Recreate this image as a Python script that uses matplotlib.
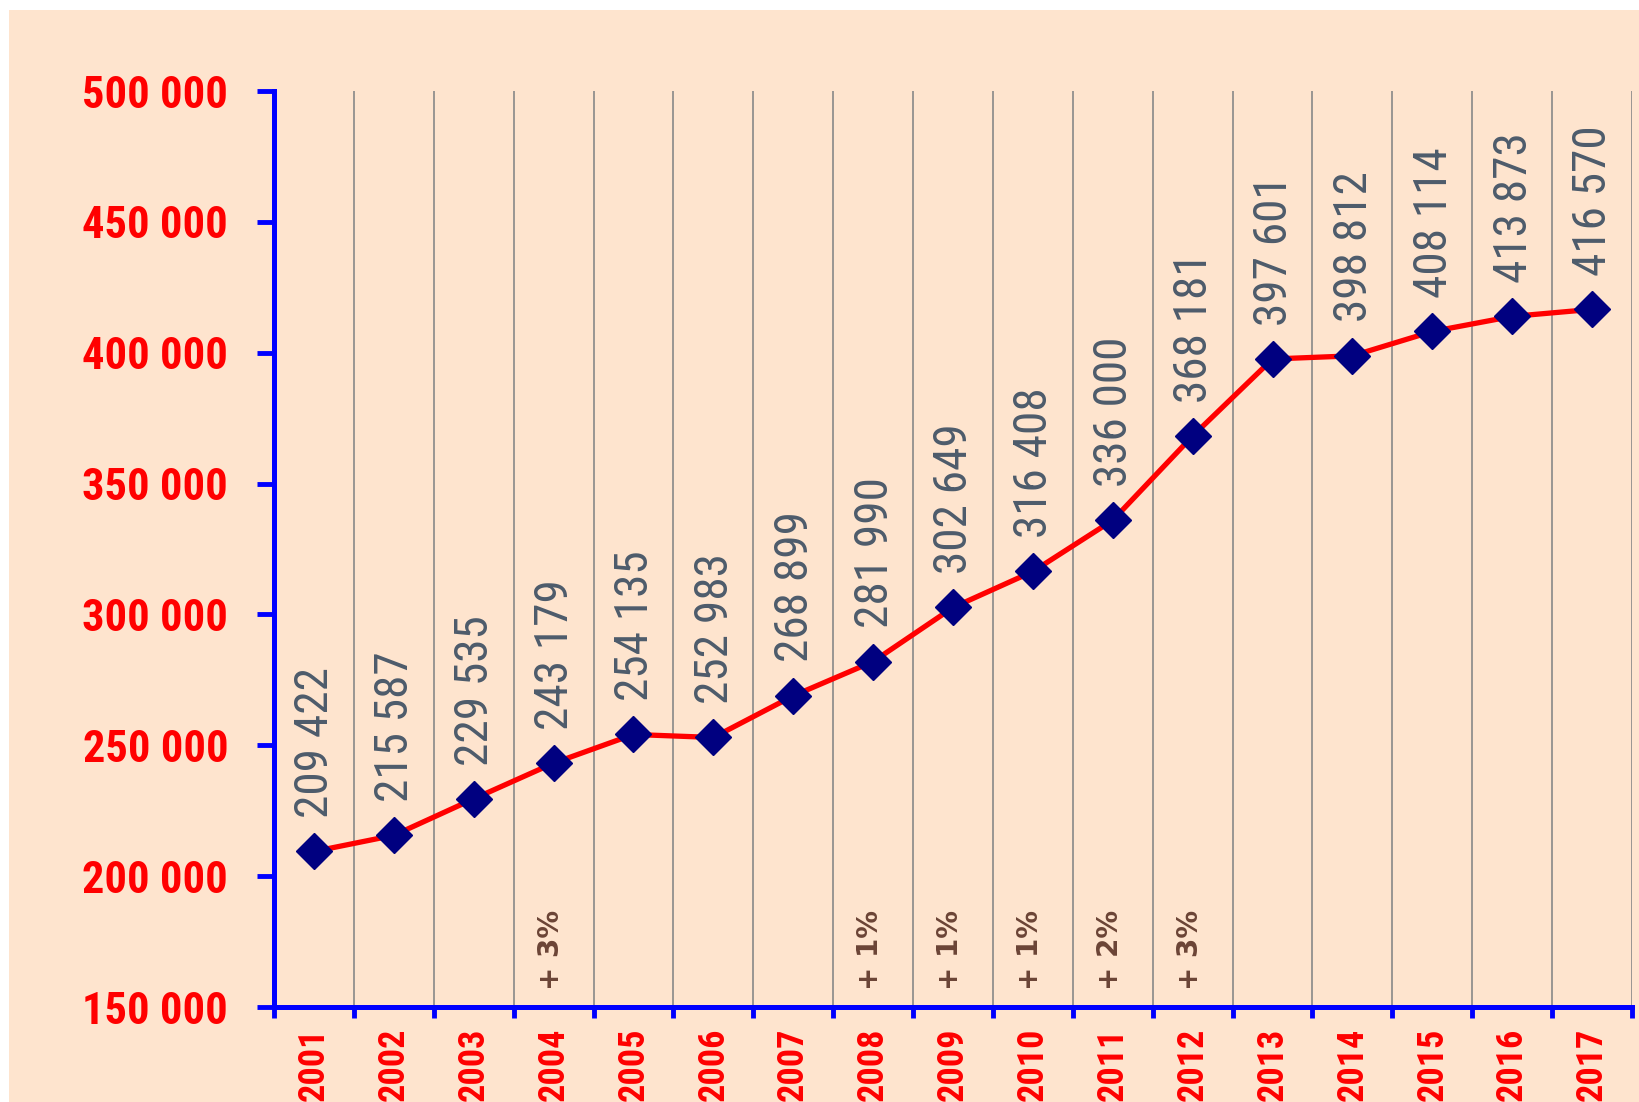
import matplotlib
matplotlib.use("Agg")
import matplotlib.pyplot as plt
from matplotlib import font_manager
from matplotlib.patches import Rectangle
from matplotlib.ticker import FixedLocator, NullFormatter

years = [str(y) for y in range(2001, 2018)]
values = [209422, 215587, 229535, 243179, 254135, 252983, 268899, 281990,
          302649, 316408, 336000, 368181, 397601, 398812, 408114, 413873, 416570]
growth_years = ["2004", "2008", "2009", "2010", "2011", "2012"]
growth_labels = ["+ 3%", "+ 1%", "+ 1%", "+ 1%", "+ 2%", "+ 3%"]
y_ticks = [150000, 200000, 250000, 300000, 350000, 400000, 450000, 500000]

BG = "#FEE4CE"
RED = "#FF0000"
BLUE = "#0000FF"

# narrow face like the original; fall back to Liberation Sans if missing
installed = {f.name for f in font_manager.fontManager.ttflist}
if "Roboto Condensed" in installed:
    NARROW, BIG, YLAB, SMALL = "Roboto Condensed", 34, 32, 26
else:
    NARROW, BIG, YLAB, SMALL = "Liberation Sans", 30, 30, 23


def spaced(v):
    return f"{v:,}".replace(",", " ")


fig = plt.figure(figsize=(16.39, 11.02), dpi=100)
fig.patch.set_facecolor("white")
fig.patches.append(Rectangle((9 / 1639, 0), 1, 1 - 10 / 1102,
                             transform=fig.transFigure, facecolor=BG,
                             edgecolor="none", zorder=-10))

ax = fig.add_axes([274 / 1639, 1 - 1007 / 1102, (1632 - 274) / 1639, (1007 - 91) / 1102])
ax.patch.set_visible(False)

x = list(range(len(years)))
ax.plot(x, values, color=RED, linewidth=3.8, marker="D", markersize=18,
        markerfacecolor="#000080", markeredgecolor="#000080", zorder=3,
        clip_on=False)

for xi, v in zip(x, values):
    ax.annotate(spaced(v), (xi, v), xytext=(1, 24), textcoords="offset points",
                rotation=90, ha="center", va="bottom", color="#4D5B6B",
                fontsize=BIG, family=NARROW)

for yr, lab in zip(growth_years, growth_labels):
    xi = years.index(yr)
    ax.annotate(lab, (xi, 150000), xytext=(-2, 12), textcoords="offset points",
                rotation=90, ha="center", va="bottom", color="#6B4436",
                fontsize=20, fontweight="bold", fontfamily="DejaVu Sans")

ax.set_xlim(-0.5, len(years) - 0.5)
ax.set_ylim(150000, 500000)

# vertical separators between years
for b in range(1, len(years) + 1):
    ax.axvline(b - 0.5, color="#888888", linewidth=1.2, zorder=1)

ax.xaxis.set_major_locator(FixedLocator([b - 0.5 for b in range(len(years) + 1)]))
ax.xaxis.set_major_formatter(NullFormatter())
ax.xaxis.set_minor_locator(FixedLocator(x))
ax.set_xticklabels(years, minor=True, rotation=90, color=RED, fontsize=SMALL,
                   fontweight="bold", family=NARROW)
ax.tick_params(axis="x", which="major", direction="out", length=8, width=3.5,
               color=BLUE)
ax.tick_params(axis="x", which="minor", length=0, pad=15)

ax.set_yticks(y_ticks)
ax.set_yticklabels([spaced(t) for t in y_ticks], color=RED, fontsize=YLAB,
                   fontweight="bold", family=NARROW)
ax.tick_params(axis="y", direction="out", length=12, width=3.5, color=BLUE, pad=21)

for side in ("top", "right"):
    ax.spines[side].set_visible(False)
for side in ("left", "bottom"):
    ax.spines[side].set_color(BLUE)
    ax.spines[side].set_linewidth(3.6)

fig.savefig("out.png", dpi=100, facecolor=fig.get_facecolor())
